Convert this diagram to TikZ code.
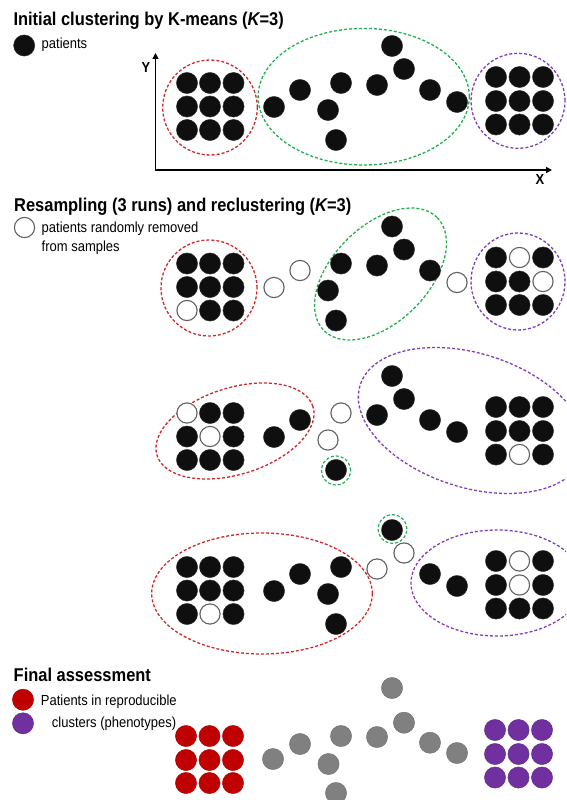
\documentclass[tikz,border=0pt]{standalone}
\usepackage{fontspec}
\setmainfont{Liberation Sans}[FakeStretch=0.89]
\usetikzlibrary{arrows.meta}
\definecolor{cred}{HTML}{D02828}
\definecolor{cgreen}{HTML}{22B04C}
\definecolor{cpurple}{HTML}{7E3FBF}
\definecolor{fred}{HTML}{C00000}
\definecolor{fpurple}{HTML}{7030A0}
\definecolor{fgray}{HTML}{808080}
\tikzset{
  dotb/.style={circle, fill=black!94, draw=black!80, line width=0.4pt, inner sep=0pt, minimum size=21.2pt},
  doto/.style={circle, fill=white, draw=black!62, line width=1.1pt, inner sep=0pt, minimum size=20.2pt},
  dotr/.style={dotb, fill=fred, draw=fred!85!black},
  dotp/.style={dotb, fill=fpurple, draw=fpurple!85!black},
  dotg/.style={dotb, fill=fgray, draw=fgray!85!black},
  hull/.style={dash pattern=on 3pt off 2pt, line width=1.3pt},
  ttl/.style={font=\fontsize{18.5}{22}\selectfont\bfseries, inner sep=0pt, anchor=base west},
  leg/.style={font=\fontsize{14.6}{18}\selectfont, inner sep=0pt, anchor=base west},
  axlab/.style={font=\fontsize{14.6}{18}\selectfont\bfseries, inner sep=0pt},
  axis/.style={line width=1.5pt, {Triangle[length=6pt,width=6pt]}-{Triangle[length=6pt,width=6pt]}}
}
\begin{document}
\begin{tikzpicture}[x=1pt,y=-1pt]
\useasboundingbox (0,0) rectangle (566,800);
\clip (0,0) rectangle (566,800);

% ---------- titles and legends ----------
\node[ttl] (t1) at (13.3,26) {Initial clustering by K-means ({\itshape K}=3)};
\node[dotb] (ld1) at (24.2,45.5) {};
\node[leg] (l1) at (41.5,48.3) {patients};

\node[ttl] (t2) at (14,211.5) {Resampling (3 runs) and reclustering ({\itshape K}=3)};
\node[doto] (ld2) at (24.5,227.5) {};
\node[leg] (l2a) at (41.5,232.5) {patients randomly removed};
\node[leg] (l2b) at (41.5,251) {from samples};

\node[ttl] (t3) at (13.5,681.7) {Final assessment};
\node[dotr] (ld3) at (23,699.7) {};
\node[dotp] (ld4) at (23,723.3) {};
\node[leg] (l3a) at (40.7,705) {Patients in reproducible};
\node[leg] (l3b) at (51.7,727.7) {clusters (phenotypes)};

% ---------- axes ----------
\coordinate (ytip) at (155.5,53);
\coordinate (orig) at (155.5,170);
\coordinate (xtip) at (552,170);
\draw[axis] (ytip) -- (orig) -- (xtip);
\node[axlab] (ylab) at (146,67) {Y};
\node[axlab] (xlab) at (540,179) {X};

% ---------- row 1 ----------
\draw[cred, hull] (210,107.5) ellipse [x radius=47.3pt, y radius=47.5pt];
\draw[cgreen, hull] (363.7,96.7) ellipse [x radius=105.6pt, y radius=68.3pt];
\draw[cpurple, hull] (518,100.8) ellipse [x radius=47pt, y radius=47.5pt];
\foreach \x in {187,210,233.5} \foreach \y in {83,106.5,130} \node[dotb] at (\x,\y) {};
\foreach \x in {496,519.5,543} \foreach \y in {77,101,124.5} \node[dotb] at (\x,\y) {};
\foreach \p in {(274,107),(300,90),(341,83),(328,110),(336,140),(377,85),(392,46),(404,69),(430,90),(457,102)}
  \node[dotb] at \p {};

% ---------- row 2 ----------
\draw[cred, hull] (209,288) ellipse [x radius=48pt, y radius=48pt];
\draw[cgreen, hull, rotate around={45:(380.5,274)}] (380.5,274) ellipse [x radius=80pt, y radius=48pt];
\draw[cpurple, hull] (518,281.5) ellipse [x radius=47pt, y radius=48.5pt];
\begin{scope}[shift={(0,180.5)}]
  \foreach \p in {(187,83),(210,83),(233.5,83),(187,106.5),(210,106.5),(233.5,106.5),(210,130),(233.5,130)}
    \node[dotb] at \p {};
  \node[doto] at (187,130) {};
  \foreach \p in {(496,77),(543,77),(496,101),(519.5,101),(496,124.5),(519.5,124.5),(543,124.5)}
    \node[dotb] at \p {};
  \foreach \p in {(519.5,77),(543,101)} \node[doto] at \p {};
  \foreach \p in {(341,83),(328,110),(336,140),(377,85),(392,46),(404,69),(430,90)}
    \node[dotb] at \p {};
  \foreach \p in {(274,107),(300,90),(457,102)} \node[doto] at \p {};
\end{scope}

% ---------- row 3 ----------
\draw[cred, hull, rotate around={17.4:(235,431)}] (235,431) ellipse [x radius=81.7pt, y radius=43.3pt];
\draw[cpurple, hull, rotate around={-17.6:(471.7,420.5)}] (471.7,420.5) ellipse [x radius=117pt, y radius=67pt];
\draw[cgreen, hull, line width=1.2pt] (336,470.5) circle [radius=14.5pt];
\begin{scope}[shift={(0,330)}]
  \foreach \p in {(210,83),(233.5,83),(187,106.5),(233.5,106.5),(187,130),(210,130),(233.5,130)}
    \node[dotb] at \p {};
  \foreach \p in {(187,83),(210,106.5)} \node[doto] at \p {};
  \foreach \p in {(496,77),(519.5,77),(543,77),(496,101),(519.5,101),(543,101),(496,124.5),(543,124.5)}
    \node[dotb] at \p {};
  \node[doto] at (519.5,124.5) {};
  \foreach \p in {(274,107),(300,90),(336,140),(377,85),(392,46),(404,69),(430,90),(457,102)}
    \node[dotb] at \p {};
  \foreach \p in {(341,83),(328,110)} \node[doto] at \p {};
\end{scope}

% ---------- row 4 ----------
\draw[cred, hull] (262,593.5) ellipse [x radius=110.3pt, y radius=60.5pt];
\draw[cpurple, hull] (497,583) ellipse [x radius=86pt, y radius=53pt];
\draw[cgreen, hull, line width=1.2pt] (392.5,529) circle [radius=14.3pt];
\begin{scope}[shift={(0,484)}]
  \foreach \p in {(187,83),(210,83),(233.5,83),(187,106.5),(210,106.5),(233.5,106.5),(187,130),(233.5,130)}
    \node[dotb] at \p {};
  \node[doto] at (210,130) {};
  \foreach \p in {(496,77),(543,77),(496,101),(543,101),(496,124.5),(519.5,124.5),(543,124.5)}
    \node[dotb] at \p {};
  \foreach \p in {(519.5,77),(519.5,101)} \node[doto] at \p {};
  \foreach \p in {(274,107),(300,90),(341,83),(328,110),(336,140),(392,46),(430,90),(457,102)}
    \node[dotb] at \p {};
  \foreach \p in {(377,85),(404,69)} \node[doto] at \p {};
\end{scope}

% ---------- row 5 ----------
\begin{scope}[shift={(0,653)}]
  \foreach \x in {186,209.5,233} \foreach \y in {83,107,130} \node[dotr] at (\x,\y) {};
  \foreach \x in {495,518.5,542} \foreach \y in {77,101,124.5} \node[dotp] at (\x,\y) {};
  \foreach \p in {(273,106),(300,91),(341,83),(328.5,111),(336,140),(377,84),(392,35),(404,69.7),(430,89.7),(457,100)}
    \node[dotg] at \p {};
\end{scope}
\end{tikzpicture}
\end{document}
